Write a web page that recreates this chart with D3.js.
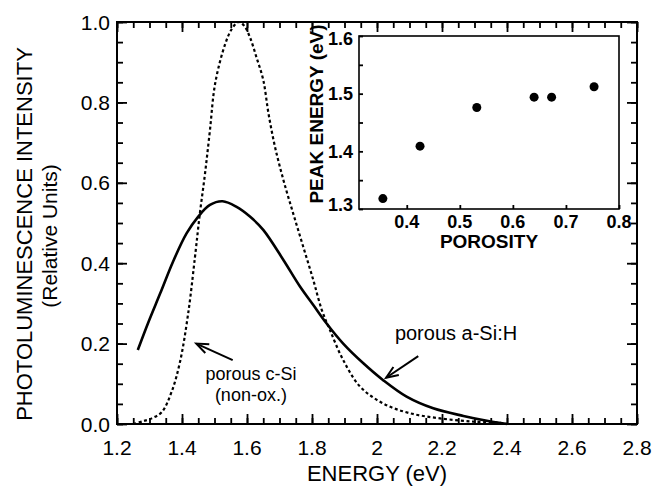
<!DOCTYPE html>
<html>
<head>
<meta charset="utf-8">
<script src="https://cdn.jsdelivr.net/npm/d3@7"></script>
<style>
  body { margin: 0; background: #fff; }
  svg { font-family: "Liberation Sans", Arial, Helvetica, sans-serif; }
</style>
</head>
<body>
<svg width="663" height="487"></svg>
<script>
// porous a-Si:H (solid line)
let aSiEnergy = [1.264, 1.296, 1.333, 1.373, 1.414, 1.450, 1.486, 1.525, 1.568, 1.609, 1.650, 1.712, 1.763, 1.804, 1.845, 1.896, 1.958, 2.019, 2.091, 2.173, 2.266, 2.338, 2.400];
let aSiIntensity = [0.184, 0.252, 0.325, 0.405, 0.474, 0.516, 0.545, 0.554, 0.540, 0.516, 0.483, 0.408, 0.342, 0.296, 0.250, 0.200, 0.151, 0.109, 0.068, 0.039, 0.020, 0.008, 0.0];

// porous c-Si, non-oxidised (dotted line)
let cSiEnergy = [1.250, 1.280, 1.307, 1.338, 1.368, 1.394, 1.419, 1.440, 1.455, 1.471, 1.486, 1.502, 1.532, 1.555, 1.575, 1.592, 1.610, 1.630, 1.650, 1.666, 1.686, 1.712, 1.742, 1.773, 1.804, 1.830, 1.855, 1.896, 1.948, 2.019, 2.100, 2.194, 2.296, 2.378, 2.400];
let cSiIntensity = [0.0, 0.007, 0.014, 0.030, 0.080, 0.155, 0.275, 0.416, 0.524, 0.624, 0.731, 0.847, 0.943, 0.985, 1.0, 0.990, 0.960, 0.910, 0.856, 0.773, 0.690, 0.607, 0.524, 0.441, 0.358, 0.284, 0.234, 0.159, 0.093, 0.051, 0.027, 0.014, 0.006, 0.003, 0.0];

// inset: peak energy vs porosity
let porosity = [0.355, 0.425, 0.532, 0.640, 0.673, 0.753];
let peakEnergy = [1.318, 1.409, 1.476, 1.494, 1.494, 1.512];

let xTickValues = [1.2, 1.4, 1.6, 1.8, 2.0, 2.2, 2.4, 2.6, 2.8];
let xTickLabels = ['1.2', '1.4', '1.6', '1.8', '2', '2.2', '2.4', '2.6', '2.8'];
let yTickValues = [0, 0.2, 0.4, 0.6, 0.8, 1.0];
let insetXTicks = [0.4, 0.5, 0.6, 0.7, 0.8];
let insetYTicks = [1.3, 1.4, 1.5, 1.6];

let svg = d3.select('svg');

// main plot area
let mLeft = 117, mRight = 637, mTop = 22, mBottom = 424;
let x = d3.scaleLinear().domain([1.2, 2.8]).range([mLeft, mRight]);
let y = d3.scaleLinear().domain([0, 1]).range([mBottom, mTop]);

let minorX = d3.range(1.2, 2.8001, 0.05);
let minorY = d3.range(0, 1.0001, 0.05);

function styleAxis(g) {
  g.select('.domain').remove();
  g.selectAll('line').attr('stroke', '#000').attr('stroke-width', 1.8);
}

// inward ticks on all four sides, minor then major
function frameTicks(xs, ys, len) {
  svg.append('g').attr('transform', `translate(0,${mBottom})`)
      .call(d3.axisBottom(x).tickValues(xs).tickSizeInner(-len).tickSizeOuter(0).tickFormat(''))
      .call(styleAxis);
  svg.append('g').attr('transform', `translate(0,${mTop})`)
      .call(d3.axisTop(x).tickValues(xs).tickSizeInner(-len).tickSizeOuter(0).tickFormat(''))
      .call(styleAxis);
  svg.append('g').attr('transform', `translate(${mLeft},0)`)
      .call(d3.axisLeft(y).tickValues(ys).tickSizeInner(-len).tickSizeOuter(0).tickFormat(''))
      .call(styleAxis);
  svg.append('g').attr('transform', `translate(${mRight},0)`)
      .call(d3.axisRight(y).tickValues(ys).tickSizeInner(-len).tickSizeOuter(0).tickFormat(''))
      .call(styleAxis);
}
frameTicks(minorX, minorY, 6);
frameTicks(xTickValues, yTickValues, 10);

// tick labels
svg.append('g').selectAll('text')
    .data(xTickValues)
  .enter().append('text')
    .attr('x', (d) => x(d))
    .attr('y', 455)
    .attr('text-anchor', 'middle')
    .style('font-size', '21px')
    .text((d, i) => xTickLabels[i]);

svg.append('g').selectAll('text')
    .data(yTickValues)
  .enter().append('text')
    .attr('x', 110)
    .attr('y', (d) => y(d))
    .attr('dy', '0.36em')
    .attr('text-anchor', 'end')
    .style('font-size', '21px')
    .text((d) => d.toFixed(1));

// frame
svg.append('rect')
    .attr('x', mLeft).attr('y', mTop)
    .attr('width', mRight - mLeft).attr('height', mBottom - mTop)
    .attr('fill', 'none').attr('stroke', '#000').attr('stroke-width', 2);

// curves
let line = d3.line()
    .x((d) => x(d[0]))
    .y((d) => y(d[1]))
    .curve(d3.curveCatmullRom.alpha(0.5));

svg.append('path')
    .datum(cSiEnergy.map((e, i) => [e, cSiIntensity[i]]))
    .attr('d', line)
    .attr('fill', 'none')
    .attr('stroke', '#000')
    .attr('stroke-width', 2.2)
    .attr('stroke-dasharray', '3,2.6');

svg.append('path')
    .datum(aSiEnergy.map((e, i) => [e, aSiIntensity[i]]))
    .attr('d', line)
    .attr('fill', 'none')
    .attr('stroke', '#000')
    .attr('stroke-width', 2.6);

// axis titles
svg.append('text')
    .attr('x', x(2.0))
    .attr('y', 481)
    .attr('text-anchor', 'middle')
    .style('font-size', '22px')
    .text('ENERGY (eV)');

svg.append('text')
    .attr('transform', 'translate(32,234) rotate(-90)')
    .attr('text-anchor', 'middle')
    .style('font-size', '22px')
    .text('PHOTOLUMINESCENCE INTENSITY');

svg.append('text')
    .attr('transform', 'translate(57,236) rotate(-90)')
    .attr('text-anchor', 'middle')
    .style('font-size', '21px')
    .text('(Relative Units)');

// annotations
function arrow(x1, y1, x2, y2) {
  let a = Math.atan2(y2 - y1, x2 - x1);
  let len = 13, spread = 0.38;
  svg.append('line')
      .attr('x1', x1).attr('y1', y1).attr('x2', x2).attr('y2', y2)
      .attr('stroke', '#000').attr('stroke-width', 2);
  svg.append('path')
      .attr('d', `M${x2 - len * Math.cos(a - spread)},${y2 - len * Math.sin(a - spread)}` +
                 `L${x2},${y2}` +
                 `L${x2 - len * Math.cos(a + spread)},${y2 - len * Math.sin(a + spread)}`)
      .attr('fill', 'none').attr('stroke', '#000').attr('stroke-width', 2);
}

arrow(x(1.556), y(0.159), x(1.444), y(0.200));
arrow(x(2.127), y(0.169), x(2.028), y(0.115));

svg.append('text')
    .attr('x', x(1.612)).attr('y', y(0.110))
    .attr('text-anchor', 'middle')
    .style('font-size', '18px')
    .text('porous c-Si');
svg.append('text')
    .attr('x', x(1.612)).attr('y', y(0.058))
    .attr('text-anchor', 'middle')
    .style('font-size', '18px')
    .text('(non-ox.)');

svg.append('text')
    .attr('x', x(2.055)).attr('y', y(0.209))
    .style('font-size', '20px')
    .text('porous a-Si:H');

// inset
let iLeft = 359, iRight = 619, iTop = 36, iBottom = 209;
let ix = d3.scaleLinear().domain([0.31, 0.8]).range([iLeft, iRight]);
let iy = d3.scaleLinear().domain([1.3, 1.6]).range([iBottom, iTop]);

svg.append('rect')
    .attr('x', iLeft).attr('y', iTop)
    .attr('width', iRight - iLeft).attr('height', iBottom - iTop)
    .attr('fill', '#fff');

svg.append('g').attr('transform', `translate(0,${iBottom})`)
    .call(d3.axisBottom(ix).tickValues(insetXTicks).tickSizeInner(-4).tickSizeOuter(0).tickFormat(''))
    .call(styleAxis);
svg.append('g').attr('transform', `translate(${iLeft},0)`)
    .call(d3.axisLeft(iy).tickValues(d3.range(1.3, 1.6001, 0.05)).tickSizeInner(-4).tickSizeOuter(0).tickFormat(''))
    .call(styleAxis);

svg.append('rect')
    .attr('x', iLeft).attr('y', iTop)
    .attr('width', iRight - iLeft).attr('height', iBottom - iTop)
    .attr('fill', 'none').attr('stroke', '#000').attr('stroke-width', 1.6);

svg.append('g').selectAll('circle')
    .data(porosity)
  .enter().append('circle')
    .attr('cx', (d) => ix(d))
    .attr('cy', (d, i) => iy(peakEnergy[i]))
    .attr('r', 4.5)
    .attr('fill', '#000');

svg.append('g').selectAll('text')
    .data(insetXTicks)
  .enter().append('text')
    .attr('x', (d) => ix(d))
    .attr('y', 228)
    .attr('text-anchor', 'middle')
    .style('font-size', '18px')
    .style('font-weight', 'bold')
    .text((d) => d.toFixed(1));

svg.append('g').selectAll('text')
    .data(insetYTicks)
  .enter().append('text')
    .attr('x', 353)
    .attr('y', (d) => iy(d) + (d === 1.6 ? 3 : d === 1.3 ? -4 : 0))
    .attr('dy', '0.36em')
    .attr('text-anchor', 'end')
    .style('font-size', '18px')
    .style('font-weight', 'bold')
    .text((d) => d.toFixed(1));

svg.append('text')
    .attr('x', (iLeft + iRight) / 2).attr('y', 248)
    .attr('text-anchor', 'middle')
    .style('font-size', '19px')
    .style('font-weight', 'bold')
    .text('POROSITY');

svg.append('text')
    .attr('transform', 'translate(323,114) rotate(-90)')
    .attr('text-anchor', 'middle')
    .style('font-size', '19px')
    .style('font-weight', 'bold')
    .text('PEAK ENERGY (eV)');
</script>
</body>
</html>
